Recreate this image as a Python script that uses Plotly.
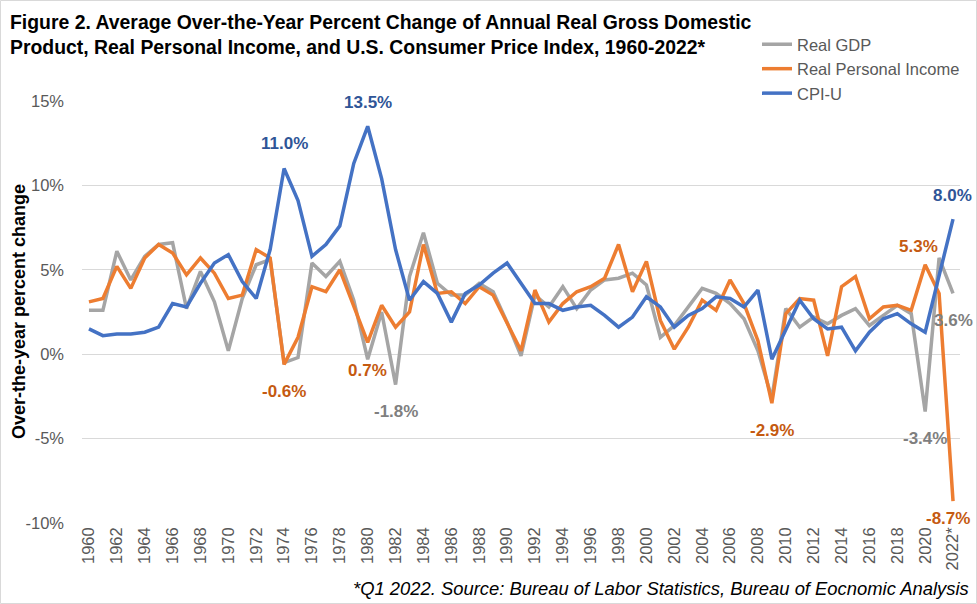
import plotly.graph_objects as go

years = [str(y) for y in range(1960, 2022)] + ["2022*"]

real_gdp = [2.6, 2.6, 6.1, 4.4, 5.8, 6.5, 6.6, 2.7, 4.9, 3.1,
            0.2, 3.3, 5.3, 5.6, -0.5, -0.2, 5.4, 4.6, 5.5, 3.2,
            -0.3, 2.5, -1.8, 4.6, 7.2, 4.2, 3.5, 3.5, 4.2, 3.7,
            1.9, -0.1, 3.5, 2.8, 4.0, 2.7, 3.8, 4.4, 4.5, 4.8,
            4.1, 1.0, 1.7, 2.8, 3.9, 3.6, 3.0, 2.1, 0.2, -2.6,
            2.7, 1.6, 2.2, 1.8, 2.3, 2.7, 1.7, 2.3, 2.9, 2.4,
            -3.4, 5.7, 3.6]

real_personal_income = [3.1, 3.3, 5.2, 3.9, 5.7, 6.5, 6.0, 4.7, 5.7, 4.8,
                        3.3, 3.5, 6.2, 5.7, -0.6, 1.0, 4.0, 3.7, 5.0, 2.8,
                        0.7, 2.9, 1.6, 2.5, 6.5, 3.6, 3.7, 3.0, 4.0, 3.5,
                        1.9, 0.2, 3.8, 1.9, 3.0, 3.7, 4.0, 4.5, 6.5, 3.7,
                        5.5, 2.0, 0.3, 1.6, 3.2, 2.6, 4.4, 3.0, 0.8, -2.9,
                        2.4, 3.3, 3.2, -0.1, 4.0, 4.6, 2.1, 2.8, 2.9, 2.6,
                        5.3, 3.6, -8.7]

cpi_u = [1.5, 1.1, 1.2, 1.2, 1.3, 1.6, 3.0, 2.8, 4.2, 5.4,
         5.9, 4.3, 3.3, 6.2, 11.0, 9.1, 5.8, 6.5, 7.6, 11.3,
         13.5, 10.4, 6.2, 3.2, 4.3, 3.6, 1.9, 3.6, 4.1, 4.8,
         5.4, 4.2, 3.0, 3.0, 2.6, 2.8, 2.9, 2.3, 1.6, 2.2,
         3.4, 2.8, 1.6, 2.3, 2.7, 3.4, 3.3, 2.8, 3.8, -0.3,
         1.5, 3.2, 2.1, 1.5, 1.6, 0.2, 1.3, 2.1, 2.4, 1.8,
         1.3, 4.7, 8.0]

y_ticks = [-10, -5, 0, 5, 10, 15]

series_names = ["Real GDP", "Real Personal Income", "CPI-U"]
series_values = [real_gdp, real_personal_income, cpi_u]
series_colors = ["#A5A5A5", "#ED7D31", "#4472C4"]
label_colors = ["#7F7F7F", "#C55A11", "#2F5597"]

# (series index, year label, vertical offset in px, horizontal offset in px)
labelled_points = [
    (2, "1974", 25, 0), (2, "1980", 24, 0), (2, "2022*", 24, -1),
    (1, "2020", 18, -7), (0, "2022*", -27, 0),
    (1, "1974", -27, 0), (1, "1980", -28, 0), (0, "1982", -27, 0),
    (1, "2009", -27, 0), (0, "2020", -27, 0), (1, "2022*", -17, -5),
]

W, H = 977, 604
L, R, T, B = 82, 17, 101, 81
PW, PH = W - L - R, H - T - B

FONT = "Liberation Sans, Arial, sans-serif"

idx = list(range(len(years)))
fig = go.Figure()
for name, vals, col in zip(series_names, series_values, series_colors):
    fig.add_trace(go.Scatter(x=idx, y=vals, name=name, mode="lines",
                             line=dict(color=col, width=3.5)))

for s, yr, dy, dx in labelled_points:
    i = years.index(yr)
    v = series_values[s][i]
    fig.add_annotation(x=i, y=v, xref="x", yref="y", text=f"<b>{v:.1f}%</b>",
                       showarrow=False, yshift=dy, xshift=dx,
                       font=dict(family=FONT, size=17, color=label_colors[s]))


def px_x(p):
    return (p - L) / PW


def px_y(p):
    return (H - B - p) / PH


fig.add_annotation(x=px_x(8), y=px_y(9), xref="paper", yref="paper",
                   text="<b>Figure 2. Average Over-the-Year Percent Change of Annual Real Gross Domestic<br>"
                        "Product, Real Personal Income, and U.S. Consumer Price Index, 1960-2022*</b>",
                   showarrow=False, xanchor="left", yanchor="top", align="left",
                   font=dict(family=FONT, size=19.4, color="#000000"))

fig.add_annotation(x=px_x(19), y=px_y(312), xref="paper", yref="paper",
                   text="<b>Over-the-year percent change</b>", textangle=-90,
                   showarrow=False, xanchor="center", yanchor="middle",
                   font=dict(family=FONT, size=18, color="#000000"))

fig.add_annotation(x=px_x(971), y=px_y(588), xref="paper", yref="paper",
                   text="<i>*Q1 2022. Source: Bureau of Labor Statistics, Bureau of Eocnomic Analysis</i>",
                   showarrow=False, xanchor="right", yanchor="middle",
                   font=dict(family=FONT, size=18.4, color="#000000"))

fig.add_shape(type="rect", xref="paper", yref="paper",
              x0=px_x(0.5), x1=px_x(W - 0.5), y0=px_y(H - 0.5), y1=px_y(0.5),
              line=dict(color="#D9D9D9", width=1), layer="below")

fig.update_layout(
    width=W, height=H,
    margin=dict(l=L, r=R, t=T, b=B),
    paper_bgcolor="white", plot_bgcolor="white",
    legend=dict(x=px_x(757), y=px_y(27), xanchor="left", yanchor="top",
                bgcolor="rgba(0,0,0,0)", font=dict(family=FONT, size=16.5, color="#595959"),
                tracegroupgap=0),
    showlegend=True,
    xaxis=dict(range=[-0.5, len(years) - 0.5], tickmode="array",
               tickvals=idx[::2], ticktext=years[::2], tickangle=-90,
               showgrid=False, zeroline=False, showline=False, ticks="",
               tickfont=dict(family=FONT, size=16.5, color="#595959")),
    xaxis2=dict(range=[-0.5, len(years) - 0.5], overlaying="x", anchor="free",
                position=0.4, showgrid=False, zeroline=False, showline=True,
                linecolor="#D9D9D9", linewidth=1, showticklabels=False,
                tickmode="array", tickvals=[i - 0.5 for i in range(len(years) + 1)],
                ticks="outside", ticklen=4, tickcolor="#D9D9D9", tickwidth=1),
    yaxis=dict(range=[-10, 15], tickmode="array", tickvals=y_ticks,
               ticktext=[f"{v}%" for v in y_ticks], showgrid=True,
               gridcolor="#D9D9D9", gridwidth=1, zeroline=False, showline=False,
               ticklabelstandoff=17,
               tickfont=dict(family=FONT, size=16.5, color="#595959")),
)

fig.write_html("out.html", config={"displayModeBar": False},
               post_script="document.body.style.margin='0px';")
